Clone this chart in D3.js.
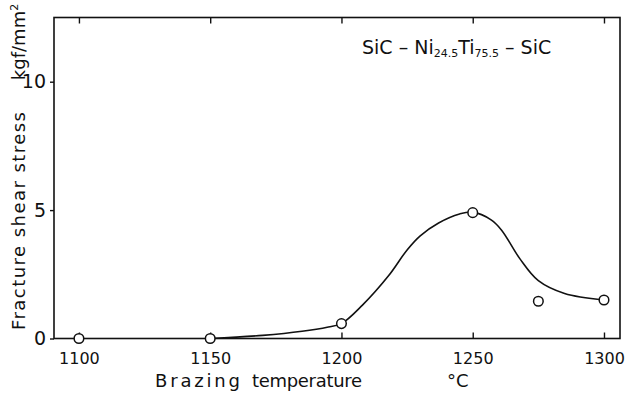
<!DOCTYPE html>
<html>
<head>
<meta charset="utf-8">
<script src="https://cdn.jsdelivr.net/npm/d3@7"></script>
<style>
    body { margin: 0; background: #fff; }
    svg text { font-family: "DejaVu Sans", sans-serif; fill: #111; }
</style>
</head>
<body>
<svg id="chart" width="629" height="400"></svg>
<script>
// measured points (open circles)
const temps = [1100, 1150, 1200, 1250, 1275, 1300];
const stress = [0, 0, 0.58, 4.9, 1.45, 1.5];

// hand drawn trend curve
const curveTemps = [1150, 1170, 1185, 1195, 1200, 1208, 1218, 1225, 1230, 1237, 1245, 1250, 1257, 1261, 1268, 1275, 1285, 1300];
const curveStress = [0, 0.12, 0.28, 0.45, 0.58, 1.3, 2.45, 3.45, 4.0, 4.5, 4.85, 4.92, 4.62, 4.22, 3.1, 2.25, 1.75, 1.5];

const xTicks = [1100, 1150, 1200, 1250, 1300];
const yTicks = [0, 5, 10];

const svg = d3.select("#chart");
const margin = { top: 17.5, right: 9, bottom: 61.5, left: 54 };
const width = 629, height = 400;

const x = d3.scaleLinear()
    .domain([1090.5, 1306.1])
    .range([margin.left, width - margin.right]);

const y = d3.scaleLinear()
    .domain([0, 12.5])
    .range([height - margin.bottom, margin.top]);

// frame
svg.append("rect")
    .attr("x", x.range()[0])
    .attr("y", y.range()[1])
    .attr("width", x.range()[1] - x.range()[0])
    .attr("height", y.range()[0] - y.range()[1])
    .attr("fill", "none")
    .attr("stroke", "#111")
    .attr("stroke-width", 1.6);

// bottom axis (ticks inward)
const xAxis = svg.append("g")
    .attr("transform", `translate(0,${y(0)})`)
    .call(d3.axisBottom(x).tickValues(xTicks).tickFormat(d3.format("d"))
        .tickSizeInner(-6).tickSizeOuter(0).tickPadding(14));
xAxis.select(".domain").remove();
xAxis.selectAll("line").attr("stroke", "#111").attr("stroke-width", 1.4);
xAxis.selectAll("text").style("font-size", "16px").attr("font-family", "DejaVu Sans").attr("fill", "#111");

// top ticks
const xTop = svg.append("g")
    .attr("transform", `translate(0,${y.range()[1]})`)
    .call(d3.axisTop(x).tickValues(xTicks).tickSizeInner(-6).tickSizeOuter(0).tickFormat(""));
xTop.select(".domain").remove();
xTop.selectAll("line").attr("stroke", "#111").attr("stroke-width", 1.4);

// left axis
const yAxis = svg.append("g")
    .attr("transform", `translate(${x.range()[0]},0)`)
    .call(d3.axisLeft(y).tickValues(yTicks).tickSizeInner(4).tickSizeOuter(0).tickPadding(4));
yAxis.select(".domain").remove();
yAxis.selectAll("line").attr("stroke", "#111").attr("stroke-width", 1.4);
yAxis.selectAll("text").style("font-size", "19px").attr("font-family", "DejaVu Sans").attr("fill", "#111");

// trend curve
const line = d3.line()
    .x(d => x(d[0]))
    .y(d => y(d[1]))
    .curve(d3.curveCatmullRom.alpha(0.5));

svg.append("path")
    .datum(curveTemps.map((t, i) => [t, curveStress[i]]))
    .attr("d", line)
    .attr("fill", "none")
    .attr("stroke", "#111")
    .attr("stroke-width", 1.6);

// points
svg.selectAll(".pt")
    .data(temps.map((t, i) => [t, stress[i]]))
    .enter()
    .append("circle")
    .attr("class", "pt")
    .attr("cx", d => x(d[0]))
    .attr("cy", d => y(d[1]))
    .attr("r", 4.8)
    .attr("fill", "#fff")
    .attr("stroke", "#111")
    .attr("stroke-width", 1.5);

// axis labels
svg.append("text")
    .attr("transform", "translate(25,221) rotate(-90)")
    .attr("text-anchor", "middle")
    .attr("textLength", 218)
    .style("font-size", "18px")
    .text("Fracture shear stress");

svg.append("text")
    .attr("transform", "translate(25,42) rotate(-90)")
    .attr("text-anchor", "middle")
    .style("font-size", "18px")
    .html("kgf/mm<tspan dy='-7' style='font-size:11px'>2</tspan>");

svg.append("text")
    .attr("x", 155)
    .attr("y", 387)
    .attr("textLength", 85)
    .style("font-size", "18px")
    .text("Brazing");

svg.append("text")
    .attr("x", 252)
    .attr("y", 387)
    .attr("textLength", 110)
    .style("font-size", "18px")
    .text("temperature");

svg.append("text")
    .attr("x", 447)
    .attr("y", 387)
    .style("font-size", "18px")
    .text("°C");

// title
const title = svg.append("text")
    .attr("x", 362)
    .attr("y", 54)
    .style("font-size", "19px");
title.append("tspan").text("SiC – Ni");
title.append("tspan").attr("dy", 3).style("font-size", "11px").text("24.5");
title.append("tspan").attr("dy", -3).text("Ti");
title.append("tspan").attr("dy", 3).style("font-size", "11px").text("75.5");
title.append("tspan").attr("dy", -3).text(" – SiC");
</script>
</body>
</html>
